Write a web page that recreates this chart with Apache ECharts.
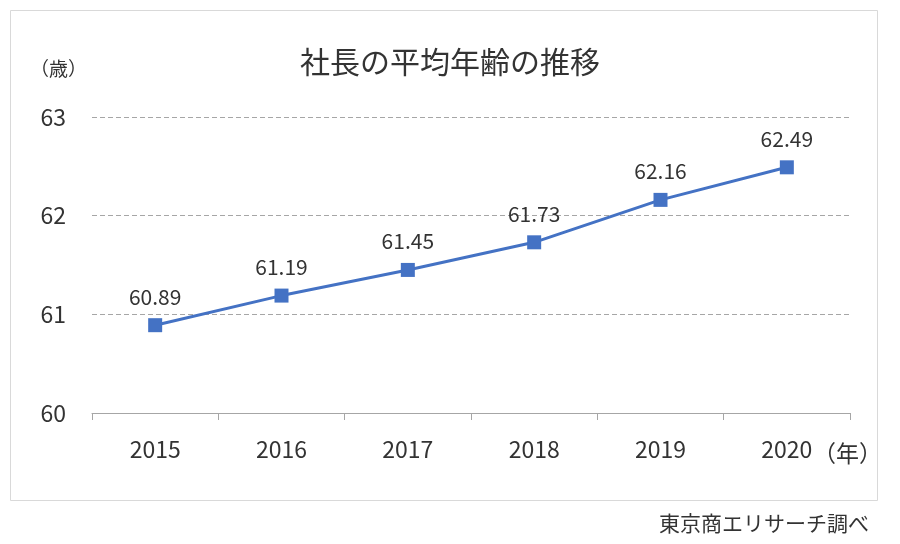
<!DOCTYPE html>
<html><head><meta charset="utf-8">
<script src="https://cdn.jsdelivr.net/npm/echarts@6/dist/echarts.min.js"></script>
<style>html,body{margin:0;padding:0;background:#fff}#c{width:900px;height:544px}</style>
</head><body><div id="c"></div>
<script>
const categories = ['2015','2016','2017','2018','2019','2020'];
const values = [60.89, 61.19, 61.45, 61.73, 62.16, 62.49];
const yTicks = [60, 61, 62, 63];
const titleText = '社長の平均年齢の推移';
const yUnit = '（歳）';
const xUnit = '（年）';
const sourceText = '東京商エリサーチ調べ';

const F = '"Noto Sans CJK JP", "Noto Sans", sans-serif';
const TXT = '#333333';
const chart = echarts.init(document.getElementById('c'));
chart.setOption({
  backgroundColor: '#fff',
  animation: false,
  graphic: [{
    type: 'rect', shape: {x: 10.5, y: 10.5, width: 867, height: 490},
    style: {fill: 'none', stroke: '#d9d9d9', lineWidth: 1}, silent: true
  }],
  title: [
    {text: titleText, left: 'center', top: 42, textStyle: {fontFamily: F, fontSize: 30, fontWeight: 'normal', color: TXT}},
    {text: yUnit, left: 25, top: 54, textStyle: {fontFamily: F, fontSize: 19, fontWeight: 'normal', color: TXT}},
    {text: xUnit, left: 808, top: 437, textStyle: {fontFamily: F, fontSize: 23, fontWeight: 'normal', color: TXT}},
    {text: sourceText, right: 26, top: 508, textStyle: {fontFamily: F, fontSize: 21, fontWeight: 'normal', color: TXT}}
  ],
  grid: {left: 92, right: 50, top: 117, bottom: 131},
  xAxis: {
    type: 'category', data: categories, boundaryGap: true,
    axisLine: {lineStyle: {color: '#a6a6a6', width: 1}},
    axisTick: {show: true, length: 7, lineStyle: {color: '#a6a6a6'}},
    axisLabel: {fontFamily: F, fontSize: 23, color: TXT, margin: 25}
  },
  yAxis: {
    type: 'value', min: yTicks[0], max: yTicks[yTicks.length-1], interval: 1,
    axisLine: {show: false}, axisTick: {show: false},
    axisLabel: {fontFamily: F, fontSize: 23, color: TXT, margin: 26},
    splitLine: {lineStyle: {color: '#a6a6a6', type: [5, 3], width: 1}}
  },
  series: [{
    type: 'line', data: values,
    symbol: 'rect', symbolSize: 14,
    lineStyle: {color: '#4472C4', width: 3},
    itemStyle: {color: '#4472C4'},
    label: {show: true, position: 'top', distance: 11, fontFamily: F, fontSize: 21, color: TXT,
      formatter: p => p.value.toFixed(2)}
  }]
});
</script></body></html>
